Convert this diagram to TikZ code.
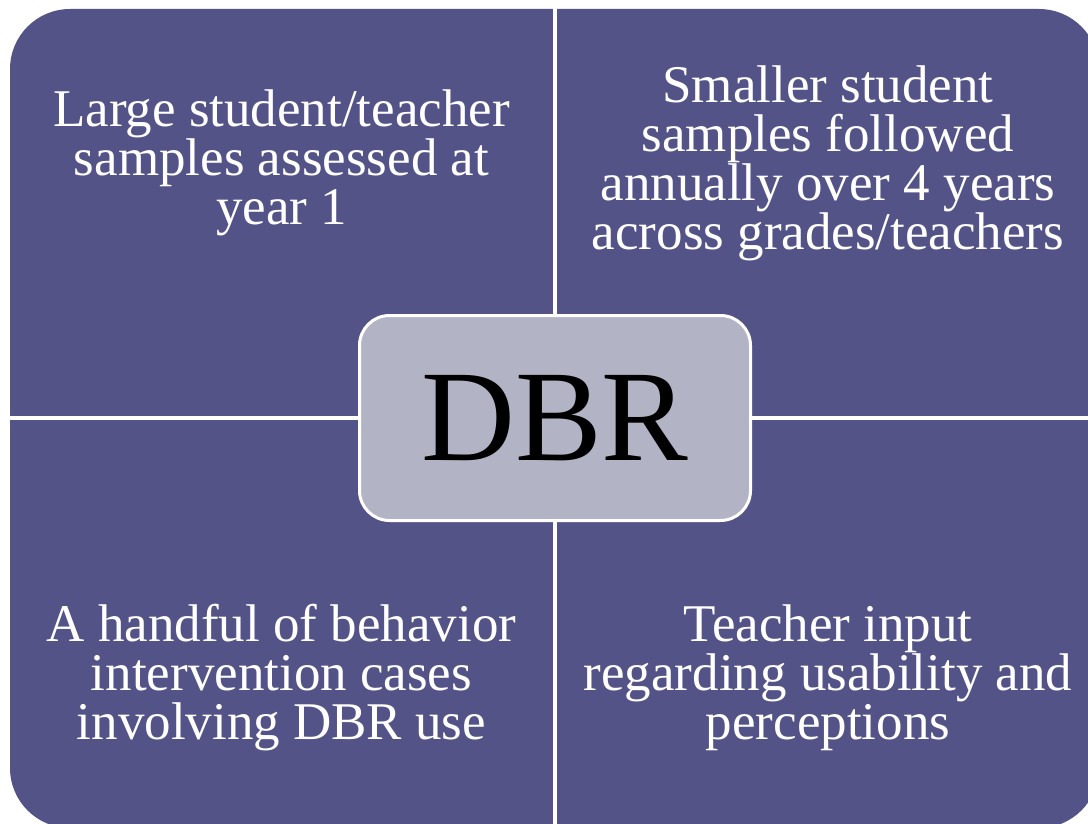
\documentclass[tikz,border=0pt]{standalone}
\usepackage{fontspec}
\setmainfont{Liberation Serif}
\usepackage{tikz}
\usetikzlibrary{positioning}

\definecolor{quadfill}{RGB}{84,83,136}
\definecolor{dbrfill}{RGB}{179,179,198}

\begin{document}
\begin{tikzpicture}[x=1pt, y=-1pt,
  quadtext/.style={text=white, align=center, font=\fontsize{53}{49}\selectfont},
  hubbox/.style={draw=white, line width=3pt, fill=dbrfill, rounded corners=30pt,
    minimum width=391pt, minimum height=205pt, inner sep=0pt,
    font=\fontsize{130}{130}\selectfont}]

\clip (0,0) rectangle (1088,824);

% quadrants
\fill[quadfill, rounded corners=60pt] (10,9) rectangle (1099,828);

\coordinate (top) at (555,0);
\coordinate (bottom) at (555,830);
\coordinate (left) at (0,418);
\coordinate (right) at (1100,418);
\draw[white, line width=4pt] (top) -- (bottom);
\draw[white, line width=4pt] (left) -- (right);

\node[quadtext] (large) at (281.5,163) {Large student/teacher\\samples assessed at\\year 1};
\node[quadtext] (smaller) at (828,163) {Smaller student\\samples followed\\annually over 4 years\\across grades/teachers};
\node[quadtext] (handful) at (281.5,678) {A handful of behavior\\intervention cases\\involving DBR use};
\node[quadtext] (input) at (828,678) {Teacher input\\regarding usability and\\perceptions};

% centre
\node[hubbox] (dbr) at (555,418) {DBR};

\end{tikzpicture}
\end{document}
